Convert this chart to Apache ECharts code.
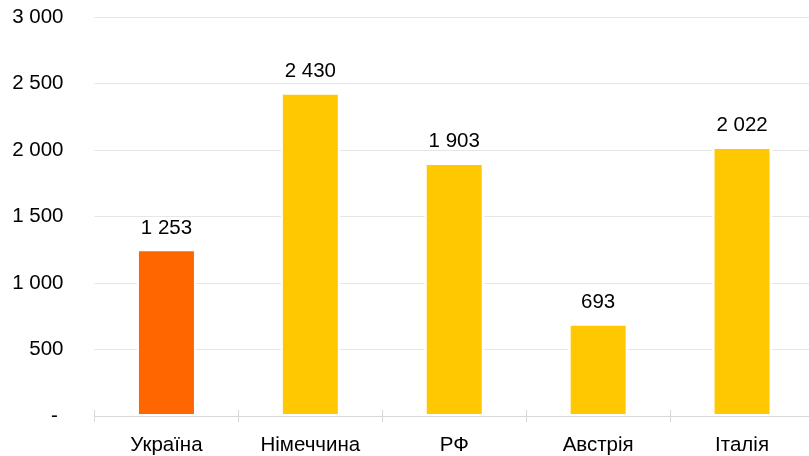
<!DOCTYPE html>
<html>
<head>
<meta charset="utf-8">
<script src="https://cdn.jsdelivr.net/npm/echarts@6/dist/echarts.min.js"></script>
<style>
    html, body { margin: 0; padding: 0; background: #fff; }
    #main { width: 809px; height: 456px; }
</style>
</head>
<body>
<div id="main"></div>
<script>
let categories = ["Україна", "Німеччина", "РФ", "Австрія", "Італія"];
let values = [1253, 2430, 1903, 693, 2022];
let barColors = ["#FF6600", "#FFC800", "#FFC800", "#FFC800", "#FFC800"];
let yTicks = [0, 500, 1000, 1500, 2000, 2500, 3000];

const fmt = (v) => {
    if (v === 0) return "- ";
    return String(v).replace(/\B(?=(\d{3})+(?!\d))/g, " ");
};

let myChart = echarts.init(document.getElementById("main"));
const font = "Liberation Sans, Arial, sans-serif";

const option = {
    animation: false,
    textStyle: { fontFamily: font },
    grid: {
        left: 94.5,
        width: 719.5,
        top: 17,
        bottom: 40,
        outerBoundsMode: "none"
    },
    xAxis: [{
        type: "category",
        data: categories,
        axisLine: { lineStyle: { color: "#D9D9D9", width: 1 } },
        axisTick: { show: true, length: 6, lineStyle: { color: "#D9D9D9" } },
        axisLabel: { color: "#000", fontSize: 20.5, margin: 19, fontFamily: font }
    }, {
        type: "category",
        data: categories,
        position: "bottom",
        axisLine: { show: false },
        axisTick: { show: true, inside: true, length: 6, lineStyle: { color: "#D9D9D9" } },
        axisLabel: { show: false }
    }],
    yAxis: {
        type: "value",
        min: yTicks[0],
        max: yTicks[yTicks.length - 1],
        interval: 500,
        axisLine: { show: false },
        axisTick: { show: false },
        axisLabel: {
            color: "#000",
            fontSize: 20.5,
            margin: 31,
            fontFamily: font,
            formatter: fmt
        },
        splitLine: { lineStyle: { color: "#E6E6E6", width: 1 } }
    },
    series: [{
        type: "bar",
        xAxisIndex: 0,
        barWidth: 59,
        data: values.map((v, i) => ({
            value: v,
            itemStyle: { color: barColors[i] }
        })),
        itemStyle: { borderColor: "#fff", borderWidth: 2 },
        label: {
            show: true,
            position: "top",
            distance: 11,
            color: "#000",
            fontSize: 20.5,
            fontFamily: font,
            formatter: (p) => fmt(p.value)
        }
    }]
};
myChart.setOption(option);
</script>
</body>
</html>
